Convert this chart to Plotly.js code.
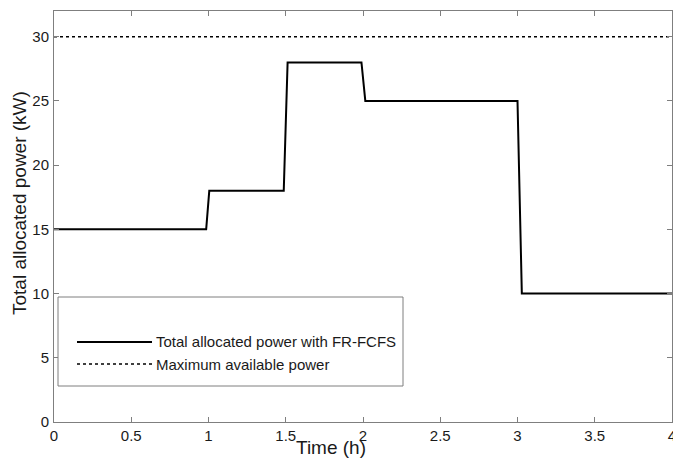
<!DOCTYPE html>
<html>
<head>
<meta charset="utf-8">
<script src="https://cdn.plot.ly/plotly-3.0.1.min.js"></script>
<style>html,body{margin:0;padding:0;background:#fff;}#chart{width:673px;height:460px;}</style>
</head>
<body>
<div id="chart"></div>
<script>
// Data
const allocTime  = [0, 0.985, 1.005, 1.487, 1.512, 1.99, 2.015, 3.0, 3.028, 4];
const allocPower = [15, 15, 18, 18, 28, 28, 25, 25, 10, 10];
const maxTime  = [0, 4];
const maxPower = [30, 30];
const seriesNames = ['Total allocated power with FR-FCFS', 'Maximum available power'];
const xTickVals = [0, 0.5, 1, 1.5, 2, 2.5, 3, 3.5, 4];
const xTickText = ['0', '0.5', '1', '1.5', '2', '2.5', '3', '3.5', '4'];
const yTickVals = [0, 5, 10, 15, 20, 25, 30];
const xTitle = 'Time (h)';
const yTitle = 'Total allocated power (kW)';

const FONT = '"Liberation Sans", Arial, Helvetica, sans-serif';
const TXT = '#1a1a1a';
const AX = '#7f7f7f';

const W = 673, H = 460;
const ml = 54, mr = 1, mt = 11, mb = 38;
const pw = W - ml - mr, ph = H - mt - mb;
const px = v => (v - ml) / pw;
const py = v => (H - mb - v) / ph;

const traces = [
  {x: allocTime, y: allocPower, name: seriesNames[0], mode: 'lines', showlegend: false,
   line: {color: '#000', width: 2}},
  {x: maxTime, y: maxPower, name: seriesNames[1], mode: 'lines', showlegend: false,
   line: {color: '#000', width: 1.5, dash: 'dot'}}
];

const shapes = [
  {type: 'rect', xref: 'paper', yref: 'paper', x0: px(58), x1: px(403), y0: py(386), y1: py(297),
   line: {color: AX, width: 1}, fillcolor: '#fff', layer: 'above'},
  {type: 'line', xref: 'paper', yref: 'paper', x0: px(77), x1: px(152), y0: py(342), y1: py(342),
   line: {color: '#000', width: 2}, layer: 'above'},
  {type: 'line', xref: 'paper', yref: 'paper', x0: px(77), x1: px(152), y0: py(364), y1: py(364),
   line: {color: '#000', width: 1.5, dash: 'dot'}, layer: 'above'}
];

const annotations = [
  {text: seriesNames[0], xref: 'paper', yref: 'paper', x: px(154), y: py(341), xanchor: 'left', yanchor: 'middle',
   showarrow: false, font: {family: FONT, size: 15, color: TXT}},
  {text: seriesNames[1], xref: 'paper', yref: 'paper', x: px(154), y: py(364), xanchor: 'left', yanchor: 'middle',
   showarrow: false, font: {family: FONT, size: 15, color: TXT}},
  {text: xTitle, xref: 'paper', yref: 'paper', x: px(331), y: py(448), xanchor: 'center', yanchor: 'middle',
   showarrow: false, font: {family: FONT, size: 19, color: TXT}},
  {text: yTitle, xref: 'paper', yref: 'paper', x: px(19), y: py(203), xanchor: 'center', yanchor: 'middle',
   textangle: -90, showarrow: false, font: {family: FONT, size: 19, color: TXT}}
];

const layout = {
  width: W, height: H,
  margin: {l: ml, r: mr, t: mt, b: mb, pad: 0},
  paper_bgcolor: '#fff', plot_bgcolor: '#fff',
  showlegend: false,
  font: {family: FONT, size: 15, color: TXT},
  xaxis: {range: [0, 4], tickmode: 'array', tickvals: xTickVals, ticktext: xTickText,
          ticks: 'inside', ticklen: 5, tickcolor: AX, tickwidth: 1,
          showline: true, linecolor: AX, linewidth: 1, mirror: 'ticks',
          showgrid: false, zeroline: false, tickfont: {family: FONT, size: 15, color: TXT},
          ticklabelstandoff: 0, ticklabeloverflow: 'allow'},
  yaxis: {range: [0, 32], tickmode: 'array', tickvals: yTickVals,
          ticks: 'inside', ticklen: 5, tickcolor: AX, tickwidth: 1,
          showline: true, linecolor: AX, linewidth: 1, mirror: 'ticks',
          showgrid: false, zeroline: false, tickfont: {family: FONT, size: 15, color: TXT},
          ticklabelstandoff: 1, ticklabeloverflow: 'allow'},
  shapes: shapes,
  annotations: annotations
};

Plotly.newPlot('chart', traces, layout, {displayModeBar: false, staticPlot: true});
</script>
</body>
</html>
